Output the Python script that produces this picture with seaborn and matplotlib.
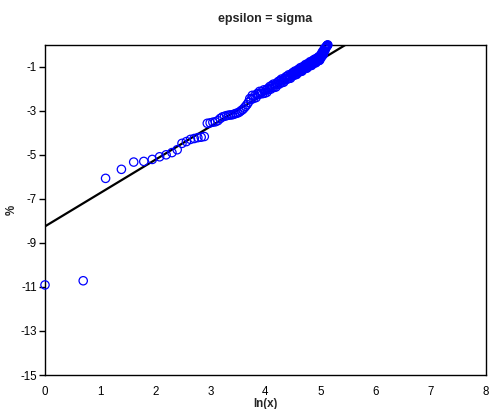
import numpy as np
import pandas as pd
import matplotlib
matplotlib.use("Agg")
import matplotlib.pyplot as plt
import seaborn as sns

# ---- data ----
title = "epsilon = sigma"
x_label = "ln(x)"
y_label = "%"

ln_x = [
    0.000, 0.693, 1.099, 1.386, 1.609, 1.792, 1.946, 2.079, 2.197, 2.303,
    2.398, 2.485, 2.565, 2.639, 2.708, 2.773, 2.833, 2.890, 2.944, 2.996,
    3.045, 3.091, 3.135, 3.178, 3.219, 3.258, 3.296, 3.332, 3.367, 3.401,
    3.434, 3.466, 3.497, 3.526, 3.555, 3.584, 3.611, 3.638, 3.664, 3.689,
    3.714, 3.738, 3.761, 3.784, 3.807, 3.829, 3.850, 3.871, 3.892, 3.912,
    3.932, 3.951, 3.970, 3.989, 4.007, 4.025, 4.043, 4.060, 4.078, 4.094,
    4.111, 4.127, 4.143, 4.159, 4.174, 4.190, 4.205, 4.220, 4.234, 4.248,
    4.263, 4.277, 4.290, 4.304, 4.317, 4.331, 4.344, 4.357, 4.369, 4.382,
    4.394, 4.407, 4.419, 4.431, 4.443, 4.454, 4.466, 4.477, 4.489, 4.500,
    4.511, 4.522, 4.533, 4.543, 4.554, 4.564, 4.575, 4.585, 4.595, 4.605,
    4.615, 4.625, 4.635, 4.644, 4.654, 4.663, 4.673, 4.682, 4.691, 4.700,
    4.710, 4.718, 4.727, 4.736, 4.745, 4.754, 4.762, 4.771, 4.779, 4.787,
    4.796, 4.804, 4.812, 4.820, 4.828, 4.836, 4.844, 4.852, 4.860, 4.868,
    4.875, 4.883, 4.890, 4.898, 4.905, 4.913, 4.920, 4.927, 4.934, 4.942,
    4.949, 4.956, 4.963, 4.970, 4.977, 4.984, 4.990, 4.997, 5.004, 5.011,
    5.017, 5.024, 5.030, 5.037, 5.043, 5.050, 5.056, 5.063, 5.069, 5.075,
    5.081, 5.088, 5.094, 5.100, 5.106, 5.112, 5.118, 5.124, 5.130,
]

pct = [
    -10.91, -10.72, -6.07, -5.66, -5.33, -5.30, -5.21, -5.09, -5.00, -4.90,
    -4.77, -4.48, -4.40, -4.30, -4.26, -4.22, -4.20, -4.17, -3.57, -3.55,
    -3.52, -3.50, -3.45, -3.35, -3.28, -3.25, -3.22, -3.20, -3.19, -3.18,
    -3.15, -3.12, -3.10, -3.06, -3.00, -2.95, -2.88, -2.80, -2.72, -2.62,
    -2.45, -2.49, -2.30, -2.44, -2.31, -2.40, -2.22, -2.26, -2.12, -2.23,
    -2.13, -2.22, -2.05, -2.20, -2.07, -2.16, -1.99, -2.03, -1.90, -2.02,
    -1.86, -1.95, -1.79, -1.94, -1.82, -1.92, -1.74, -1.79, -1.67, -1.79,
    -1.63, -1.72, -1.56, -1.72, -1.60, -1.70, -1.53, -1.58, -1.46, -1.58,
    -1.44, -1.53, -1.37, -1.53, -1.41, -1.52, -1.35, -1.40, -1.28, -1.41,
    -1.26, -1.35, -1.20, -1.36, -1.24, -1.35, -1.18, -1.24, -1.12, -1.25,
    -1.10, -1.20, -1.04, -1.21, -1.09, -1.20, -1.03, -1.09, -0.98, -1.10,
    -0.96, -1.06, -0.90, -1.07, -0.96, -1.06, -0.90, -0.96, -0.84, -0.97,
    -0.83, -0.93, -0.77, -0.94, -0.83, -0.94, -0.78, -0.83, -0.72, -0.85,
    -0.71, -0.81, -0.66, -0.82, -0.71, -0.82, -0.66, -0.72, -0.61, -0.74,
    -0.60, -0.70, -0.55, -0.72, -0.60, -0.70, -0.53, -0.58, -0.46, -0.58,
    -0.42, -0.50, -0.33, -0.48, -0.35, -0.44, -0.26, -0.30, -0.17, -0.28,
    -0.19, -0.16, -0.13, -0.10, -0.08, -0.06, -0.04, -0.02, -0.01,
]

# linear trend line (intercept, slope)
trend_intercept = -8.25
trend_slope = 1.512

x_ticks = [0, 1, 2, 3, 4, 5, 6, 7, 8]
y_ticks = [-15, -13, -11, -9, -7, -5, -3, -1]

# ---- style ----
sns.set_theme(style="white")
plt.rcParams["font.family"] = ["Liberation Sans", "DejaVu Sans"]

fig = plt.figure(figsize=(4.91, 4.09), dpi=100)
ax = fig.add_axes([45 / 491, 1 - 375 / 409, (486 - 45) / 491, (375 - 44.7) / 409])

df = pd.DataFrame({"ln_x": ln_x, "pct": pct})

trend_x = [x_ticks[0], x_ticks[-1]]
trend_df = pd.DataFrame({
    "x": trend_x,
    "y": [trend_intercept + trend_slope * v for v in trend_x],
})
sns.lineplot(data=trend_df, x="x", y="y", ax=ax, color="black", linewidth=1.6, zorder=3)

sns.scatterplot(data=df, x="ln_x", y="pct", ax=ax, marker="o", s=36,
                facecolor="none", edgecolor="#0000FF", linewidth=0.9,
                clip_on=False, zorder=4)

ax.set_xlim(0, 8)
ax.set_ylim(-15, 0)
ax.set_xticks(x_ticks)
ax.set_yticks(y_ticks)
ax.set_xticklabels([str(t) for t in x_ticks])
ax.set_yticklabels([str(t) for t in y_ticks])

for sp in ax.spines.values():
    sp.set_visible(True)
    sp.set_color("black")
    sp.set_linewidth(1.0)

ax.tick_params(axis="x", length=0, pad=8, labelsize=8.3, colors="black")
ax.tick_params(axis="y", length=4, width=1, direction="out", pad=2,
               labelsize=8.3, colors="black", left=True)

ax.set_xlabel(x_label, fontsize=8.3, fontweight="bold", labelpad=0)
ax.set_ylabel(y_label, fontsize=8.3, fontweight="bold", labelpad=2)
ax.set_title(title, fontsize=9, fontweight="bold", pad=16)
ax.grid(False)

fig.savefig("out.png", dpi=100, facecolor="white")
